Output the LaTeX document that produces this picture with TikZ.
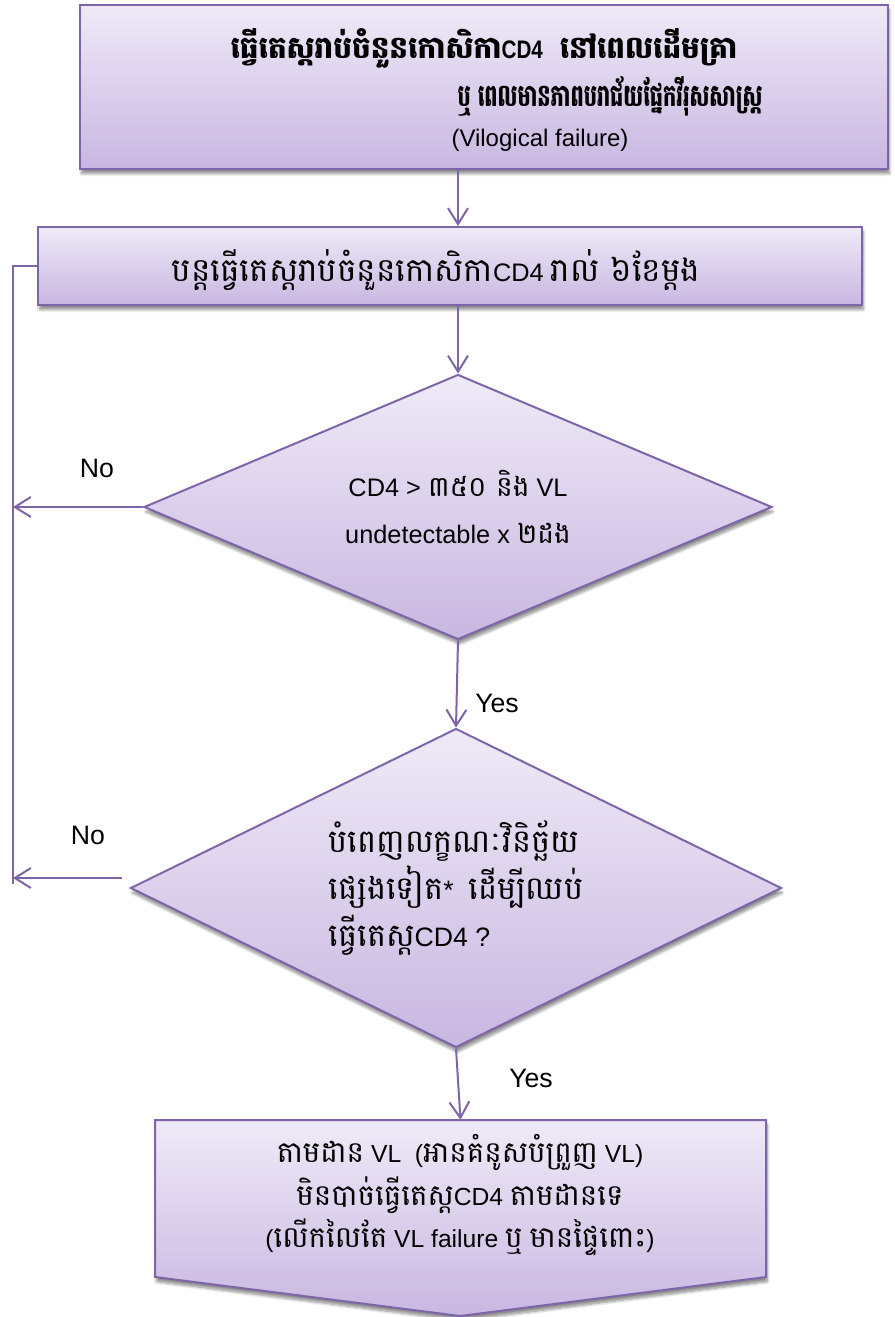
\documentclass[tikz,border=0pt]{standalone}
\usepackage{fontspec}
\setmainfont{Liberation Sans}
\newfontfamily\km[Script=Khmer]{Battambang}
% Khmer run at a given size: \kh{size}{text}
\newcommand{\kh}[2]{{\fontsize{#1}{#1}\selectfont\km #2}}
\usetikzlibrary{arrows.meta,shapes.geometric,shadows.blur,calc}

\definecolor{edge}{HTML}{7E64A8}
\definecolor{filltop}{HTML}{EFEAF7}
\definecolor{fillbot}{HTML}{C8B7E1}

\tikzset{
  box/.style={draw=edge, line width=1.5pt, top color=filltop, bottom color=fillbot,
    blur shadow={shadow xshift=1pt, shadow yshift=-3.5pt, shadow blur steps=7, shadow opacity=45}},
  rectbox/.style={box, rectangle, inner sep=0pt},
  decision/.style={box, diamond, inner sep=0pt},
  conn/.style={draw=edge, line width=1.5pt, -{Straight Barb[length=12pt,width=15pt]}},
  rail/.style={draw=edge, line width=1.5pt},
  lbl/.style={inner sep=0pt, font=\fontsize{20}{24}\selectfont},
  txt/.style={inner sep=0pt, align=center},
}

\begin{document}
\begin{tikzpicture}[x=0.75pt, y=-0.75pt]
\useasboundingbox (0,0) rectangle (895,1317);

% top box
\node[rectbox, minimum width=808*0.75pt, minimum height=164*0.75pt] (top) at (484,87) {};
\node[txt, font=\fontsize{19}{23}\selectfont\bfseries] (t1) at (484,48)
  {\scalebox{0.96}[1]{\kh{23pt}{ធ្វើតេស្តរាប់ចំនួនកោសិកា}\scalebox{0.85}[1]{CD4}\ \kh{23pt}{ នៅពេលដើមគ្រា}}};
\node[txt, font=\fontsize{19}{23}\selectfont\bfseries] (t2) at (610,96)
  {\scalebox{0.68}[1]{\kh{23pt}{ឬ ពេលមានភាពបរាជ័យផ្នែកវីរុសសាស្ត្រ}}};
\node[txt, font=\fontsize{18}{20}\selectfont] (t3) at (540,140) {(Vilogical failure)};

% routine step
\node[rectbox, minimum width=824*0.75pt, minimum height=78*0.75pt] (box2) at (450,266) {};
\node[txt, font=\fontsize{19}{24}\selectfont] (box2t) at (436,270)
  {\kh{24.5pt}{បន្តធ្វើតេស្តរាប់ចំនួនកោសិកា}CD4 \kh{24.5pt}{រាល់ ៦ខែម្តង}};

% decisions
\node[decision, aspect=2.37, minimum width=628*0.75pt, minimum height=265*0.75pt,
  align=center, font=\fontsize{19}{35}\selectfont] (d1) at (458,507)
  {CD4 > \kh{21pt}{៣៥០ និង} VL\\undetectable x \kh{21pt}{២ដង}};

\node[decision, aspect=2.04, minimum width=651*0.75pt, minimum height=319*0.75pt,
  align=left, font=\fontsize{20}{35.5}\selectfont] (d2) at (456,888)
  {\kh{24pt}{បំពេញលក្ខណៈវិនិច្ឆ័យ}\\\kh{24pt}{ផ្សេងទៀត}*\ \ \kh{24pt}{ដើម្បីឈប់}\\\kh{24pt}{ធ្វើតេស្ត}CD4 ?};

% final step: box with a pointed lower edge
\path[box] (155,1120) -- (766,1120) -- (766,1277) -- (460,1316) -- (155,1277) -- cycle;
\node[inner sep=0pt, minimum width=611*0.75pt, minimum height=157*0.75pt] (out) at (460.5,1198.5) {};
\node[txt, font=\fontsize{18.5}{32}\selectfont] (t4) at (460,1195)
  {\kh{22pt}{តាមដាន} VL\ \ (\kh{22pt}{អានគំនូសបំព្រួញ} VL)\\
   \kh{22pt}{មិនបាច់ធ្វើតេស្ត}CD4 \kh{22pt}{តាមដានទេ}\\
   (\kh{22pt}{លើកលៃតែ} VL failure \kh{22pt}{ឬ} \kh{22pt}{មានផ្ទៃពោះ})};

% connectors
\coordinate (railx) at (13,0);
\draw[conn] (top.south -| d1.north) -- (box2.north -| d1.north);
\draw[conn] (box2.south -| d1.north) -- (d1.north);
\draw[conn] (d1.south) -- (d2.north);
\draw[conn] (d2.south) -- (out.north);
\draw[rail] (box2.west) -- (box2.west -| railx) -- ($(railx |- d2.west)+(0,-4)$);
\draw[conn] (d1.west) -- (d1.west -| railx);
\draw[conn] ($(d2.west)+(-8,-10)$) -- ($(railx |- d2.west)+(0,-10)$);

% branch labels
\node[lbl] (no1) at (97,468) {No};
\node[lbl] (no2) at (88,835) {No};
\node[lbl] (yes1) at (497,703) {Yes};
\node[lbl] (yes2) at (531,1078) {Yes};
\end{tikzpicture}
\end{document}
